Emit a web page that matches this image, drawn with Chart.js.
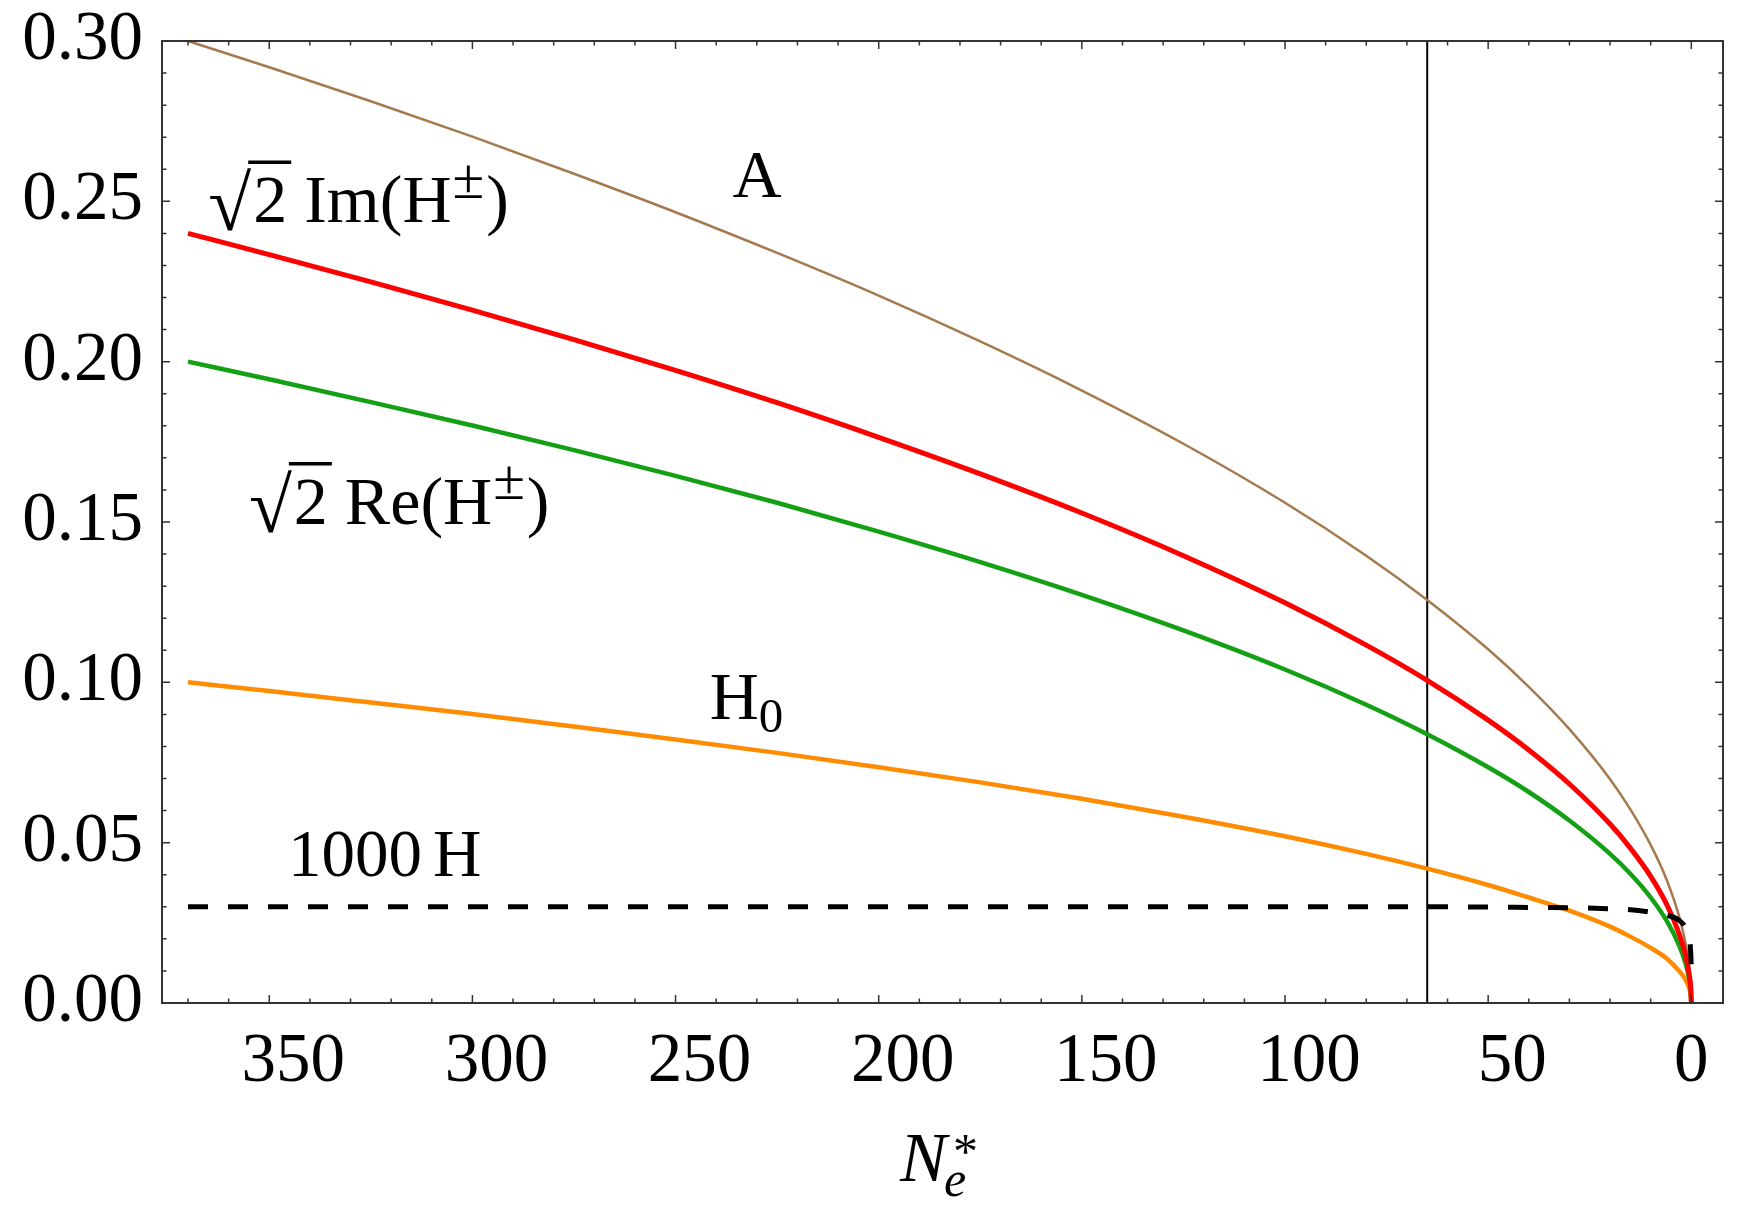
<!DOCTYPE html>
<html><head><meta charset="utf-8">
<script src="https://cdn.jsdelivr.net/npm/chart.js@4.4.1/dist/chart.umd.min.js"></script>
<style>html,body{margin:0;padding:0;background:#fff;overflow:hidden}#wrap{width:1739px;height:1205px}</style>
</head><body><div id="wrap"><canvas id="c" width="1739" height="1205"></canvas></div>
<script>
// ---- data ----
const nValues    = [370, 350, 325, 300, 275, 250, 225, 200, 175, 150, 125, 100, 80, 65, 50, 40, 30, 20, 15, 10, 6, 3, 1.5, 0.5, 0.1, 0];
const seriesA    = [0.300, 0.2918, 0.2812, 0.2702, 0.2586, 0.2466, 0.2339, 0.2206, 0.2063, 0.1910, 0.1744, 0.1560, 0.1395, 0.1257, 0.1103, 0.0986, 0.0854, 0.0698, 0.0604, 0.0493, 0.0382, 0.0270, 0.0191, 0.0110, 0.0049, 0];
const seriesImH  = [0.240, 0.2334, 0.2249, 0.2161, 0.2069, 0.1973, 0.1872, 0.1764, 0.1650, 0.1528, 0.1395, 0.1248, 0.1116, 0.1006, 0.0882, 0.0789, 0.0683, 0.0558, 0.0483, 0.0395, 0.0306, 0.0216, 0.0153, 0.0088, 0.0039, 0];
const seriesReH  = [0.200, 0.1945, 0.1874, 0.1801, 0.1724, 0.1644, 0.1560, 0.1470, 0.1375, 0.1273, 0.1162, 0.1040, 0.0930, 0.0838, 0.0735, 0.0658, 0.0569, 0.0465, 0.0403, 0.0329, 0.0255, 0.0180, 0.0127, 0.0074, 0.0033, 0];
const seriesH0   = [0.100, 0.0973, 0.0937, 0.0901, 0.0862, 0.0822, 0.0780, 0.0735, 0.0688, 0.0637, 0.0581, 0.0520, 0.0465, 0.0419, 0.0368, 0.0329, 0.0288, 0.0238, 0.0207, 0.0172, 0.0138, 0.0100, 0.0074, 0.0045, 0.0020, 0];
const series1000H= [0.0300, 0.0300, 0.0300, 0.0300, 0.0300, 0.0300, 0.0300, 0.0300, 0.0300, 0.0300, 0.0300, 0.0300, 0.0300, 0.0300, 0.0299, 0.0298, 0.0297, 0.0294, 0.0291, 0.0283, 0.0274, 0.0258, 0.0236, 0.0200, 0.0145, 0.0100];
const vlineN = 65;
const xTickValues = [350, 300, 250, 200, 150, 100, 50, 0];
const xTickLabels = ['350', '300', '250', '200', '150', '100', '50', '0'];
const yTickValues = [0, 0.05, 0.10, 0.15, 0.20, 0.25, 0.30];
const yTickLabels = ['0.00', '0.05', '0.10', '0.15', '0.20', '0.25', '0.30'];

const pts = arr => nValues.map((n, i) => ({x: n, y: arr[i]}));
const SERIF = '"Liberation Serif", "DejaVu Serif", serif';

const overlay = {
  id: 'overlay',
  afterDatasetsDraw(chart) {
    const {ctx, chartArea: a, scales: {x, y}} = chart;
    ctx.save();
    // ticks (inward, all four sides)
    ctx.strokeStyle = '#333'; ctx.lineWidth = 1.5;
    ctx.beginPath();
    for (let v = 0; v <= 370; v += 10) {
      const px = x.getPixelForValue(v);
      const len = v % 50 === 0 ? 8 : 4.5;
      ctx.moveTo(px, a.bottom); ctx.lineTo(px, a.bottom - len);
      ctx.moveTo(px, a.top); ctx.lineTo(px, a.top + len);
    }
    for (let k = 0; k <= 30; k++) {
      const py = y.getPixelForValue(k / 100);
      const len = k % 5 === 0 ? 8 : 4.5;
      ctx.moveTo(a.left, py); ctx.lineTo(a.left + len, py);
      ctx.moveTo(a.right, py); ctx.lineTo(a.right - len, py);
    }
    ctx.stroke();
    // frame
    ctx.lineWidth = 2;
    ctx.strokeRect(a.left, a.top, a.right - a.left, a.bottom - a.top);

    ctx.fillStyle = '#000';
    ctx.font = '69px ' + SERIF;
    // y tick labels
    ctx.textAlign = 'right'; ctx.textBaseline = 'middle';
    yTickValues.forEach((v, i) => {
      ctx.fillText(yTickLabels[i], a.left - 19, y.getPixelForValue(v));
    });
    // x tick labels
    ctx.textAlign = 'center'; ctx.textBaseline = 'alphabetic';
    xTickValues.forEach((v, i) => {
      const px = x.getPixelForValue(v) + (v === 0 ? 0 : 24);
      ctx.fillText(xTickLabels[i], px, 1081);
    });

    // x axis title  N_e^*
    ctx.textAlign = 'left';
    ctx.font = 'italic 70px ' + SERIF;
    ctx.fillText('N', 900, 1181);
    ctx.font = 'italic 50px ' + SERIF;
    ctx.fillText('e', 944, 1196);
    ctx.font = '50px ' + SERIF;
    ctx.fillText('*', 953, 1168);

    // annotations
    const at = (n, v) => [x.getPixelForValue(n), y.getPixelForValue(v)];
    const F = 68;
    const txt = (s, px, py, size, style) => {
      ctx.font = (style || '') + ' ' + size + 'px ' + SERIF;
      ctx.fillText(s, px, py);
      return px + ctx.measureText(s).width;
    };
    const sqrt2 = (px, py) => {
      let cx = txt('\u221A', px, py + F * 0.12, F * 1.15);
      const sx = cx;
      cx = txt('2', cx + 2, py, F);
      ctx.lineWidth = 3.5; ctx.strokeStyle = '#000';
      ctx.beginPath();
      ctx.moveTo(sx - 3, py - F * 0.88);
      ctx.lineTo(cx + 4, py - F * 0.88);
      ctx.stroke();
      return cx;
    };
    // sqrt2 Im(H±)
    let [px, py] = at(365, 0.2435);
    let cx = sqrt2(px, py);
    cx = txt(' Im(H', cx, py, F);
    cx = txt('\u00B1', cx + 1, py - F * 0.36, F * 0.85);
    txt(')', cx + 2, py, F);
    // sqrt2 Re(H±)
    [px, py] = at(355, 0.1495);
    cx = sqrt2(px, py);
    cx = txt(' Re(H', cx, py, F);
    cx = txt('\u00B1', cx + 1, py - F * 0.36, F * 0.85);
    txt(')', cx + 2, py, F);
    // A
    [px, py] = at(236, 0.2512);
    txt('A', px, py, F);
    // H0
    [px, py] = at(241.6, 0.0887);
    cx = txt('H', px, py, F);
    txt('0', cx, py + F * 0.2, F * 0.72);
    // 1000 H
    [px, py] = at(345.4, 0.0397);
    txt('1000\u2006H', px, py, 67);
    ctx.restore();
  }
};

new Chart(document.getElementById('c'), {
  type: 'line',
  data: {
    datasets: [
      {data: pts(series1000H), borderColor: '#000', borderWidth: 5, borderDash: [20, 20], order: 0},
      {data: pts(seriesImH), borderColor: '#ff0000', borderWidth: 5, order: 1},
      {data: pts(seriesReH), borderColor: '#14a014', borderWidth: 4.5, order: 2},
      {data: pts(seriesA), borderColor: '#a47a4e', borderWidth: 2.5, order: 3},
      {data: pts(seriesH0), borderColor: '#ff8c00', borderWidth: 4.5, order: 4},
      {data: [{x: vlineN, y: 0}, {x: vlineN, y: 0.30}], borderColor: '#000', borderWidth: 2, order: 5}
    ].map(d => Object.assign({pointRadius: 0, fill: false, cubicInterpolationMode: 'monotone', tension: 0.4}, d))
  },
  options: {
    responsive: false,
    animation: false,
    devicePixelRatio: 1,
    layout: {padding: {left: 0, right: 16, top: 41, bottom: 0}},
    plugins: {legend: {display: false}, tooltip: {enabled: false}},
    scales: {
      x: {
        type: 'linear', reverse: true, min: -7.8, max: 376.4,
        grid: {display: false, drawTicks: false}, border: {display: false},
        ticks: {display: false},
        afterBuildTicks: s => { s.ticks = xTickValues.map(v => ({value: v})); },
        afterFit: s => { s.height = 202; }
      },
      y: {
        type: 'linear', min: 0, max: 0.30,
        grid: {display: false, drawTicks: false}, border: {display: false},
        ticks: {display: false},
        afterBuildTicks: s => { s.ticks = yTickValues.map(v => ({value: v})); },
        afterFit: s => { s.width = 162; }
      }
    }
  },
  plugins: [overlay]
});
</script></body></html>
